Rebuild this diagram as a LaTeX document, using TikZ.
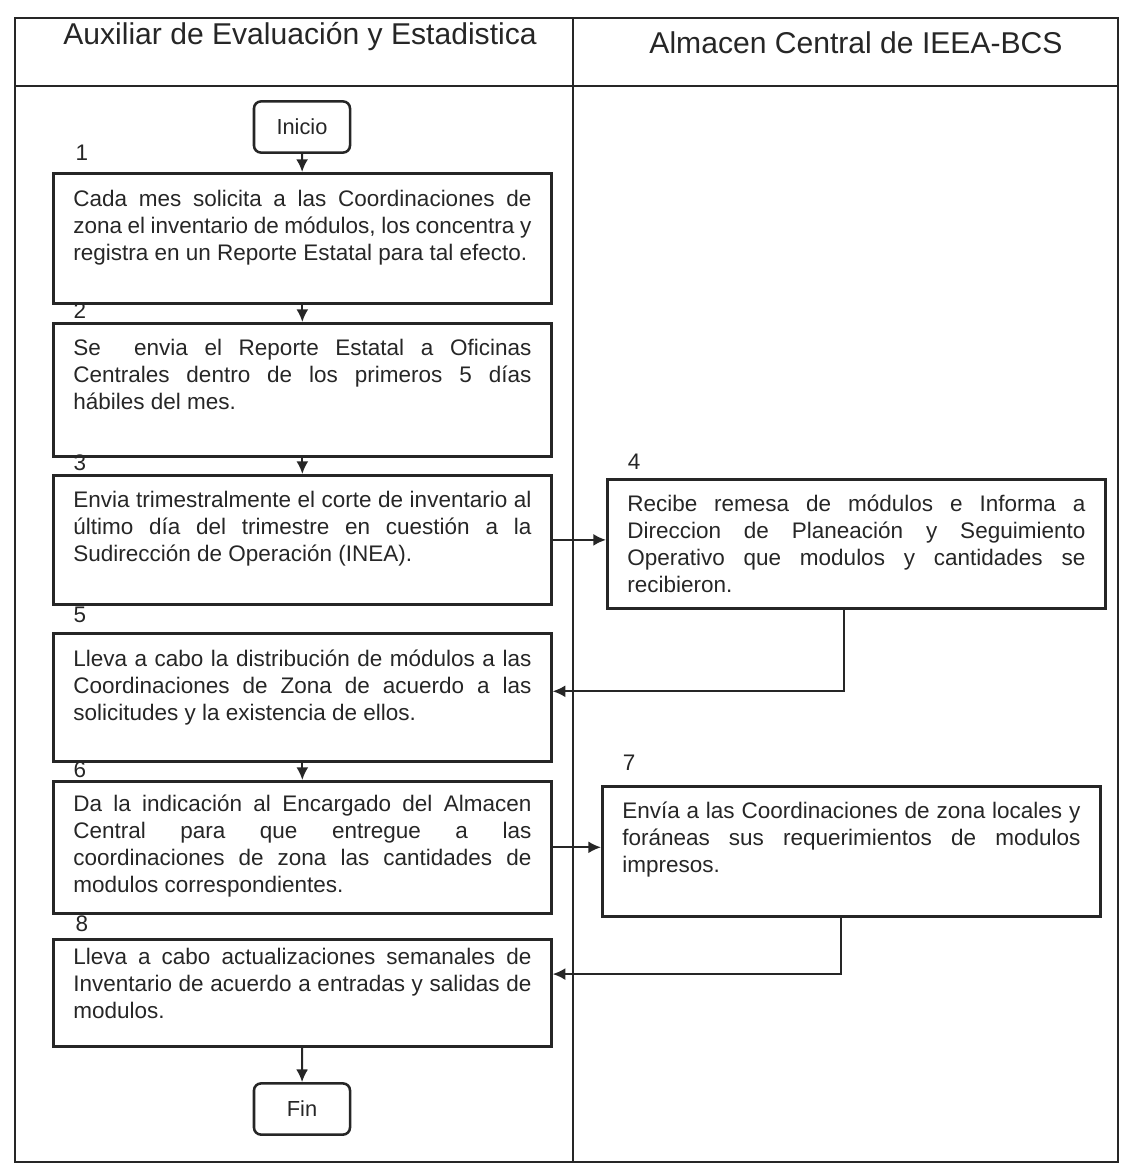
\documentclass[tikz,border=0pt]{standalone}
\usepackage{fontspec}
\setmainfont{Liberation Sans}
\usetikzlibrary{arrows.meta}
\definecolor{ink}{HTML}{262626}
\newcommand{\steptext}[3]{\parbox[t][#1][t]{11.45cm}{\fontsize{16}{19.2}\selectfont\vspace*{#2}#3}}
\begin{document}
\begin{tikzpicture}[x=0.025cm, y=-0.025cm, ink,
    stepbox/.style = {draw, line width=1.8pt, anchor=north west, inner xsep=0.5cm, inner ysep=0pt},
    endbox/.style = {draw, line width=1.8pt, rounded corners=5pt, minimum width=2.4cm, minimum height=1.28cm, font=\fontsize{15.5}{17}\selectfont},
    numlabel/.style = {font=\fontsize{16}{19}\selectfont},
    lane/.style = {font=\fontsize{21.4}{24}\selectfont},
    flow/.style = {-{Latex[length=9pt,width=8.5pt]}, line width=1.4pt}]
  \useasboundingbox (0,0) rectangle (1120,1170);
  % swimlane frame
  \draw[line width=1pt] (15,18) rectangle (1118,1162);
  \draw[line width=1pt] (15,86) -- (1118,86);
  \draw[line width=1pt] (573,18) -- (573,1162);
  \node[lane] (laneA) at (300,37) {Auxiliar de Evaluación y Estadistica};
  \node[lane] (laneB) at (856,43) {Almacen Central de IEEA-BCS};
  % start and end
  \node[endbox] (inicio) at (302,127) {Inicio};
  \node[endbox] (fin) at (302,1109) {Fin};
  % steps
  \node[numlabel] (n1) at (82,153) {1};
  \node[stepbox] (b1) at (52,172) {\steptext{3.25cm}{12pt}{Cada mes solicita a las Coordinaciones de\linebreak zona el inventario de módulos, los concentra y\linebreak registra en un Reporte Estatal para tal efecto.}};
  \node[numlabel] (n2) at (80,311) {2};
  \node[stepbox] (b2) at (52,322) {\steptext{3.33cm}{11pt}{Se\ \ envia el Reporte Estatal a Oficinas\linebreak Centrales dentro de los primeros 5 días\linebreak hábiles del mes.}};
  \node[numlabel] (n3) at (80,463) {3};
  \node[stepbox] (b3) at (52,474) {\steptext{3.23cm}{11pt}{Envia trimestralmente el corte de inventario al\linebreak último día del trimestre en cuestión a la\linebreak Sudirección de Operación (INEA).}};
  \node[numlabel] (n4) at (634,462) {4};
  \node[stepbox] (b4) at (606,478) {\steptext{3.23cm}{11pt}{Recibe remesa de módulos e Informa a\linebreak Direccion de Planeación y Seguimiento\linebreak Operativo que modulos y cantidades se\linebreak recibieron.}};
  \node[numlabel] (n5) at (80,615) {5};
  \node[stepbox] (b5) at (52,632) {\steptext{3.2cm}{12pt}{Lleva a cabo la distribución de módulos a las\linebreak Coordinaciones de Zona de acuerdo a las\linebreak solicitudes y la existencia de ellos.}};
  \node[numlabel] (n6) at (80,770) {6};
  \node[stepbox] (b6) at (52,780) {\steptext{3.3cm}{10pt}{Da la indicación al Encargado del Almacen\linebreak Central para que entregue a las\linebreak coordinaciones de zona las cantidades de\linebreak modulos correspondientes.}};
  \node[numlabel] (n7) at (629,763) {7};
  \node[stepbox] (b7) at (601,785) {\steptext{3.25cm}{11pt}{Envía a las Coordinaciones de zona locales y\linebreak foráneas sus requerimientos de modulos\linebreak impresos.}};
  \node[numlabel] (n8) at (82,924) {8};
  \node[stepbox] (b8) at (52,938) {\steptext{2.68cm}{6pt}{Lleva a cabo actualizaciones semanales de\linebreak Inventario de acuerdo a entradas y salidas de\linebreak modulos.}};
  % connectors
  \draw[flow] (inicio) -- (b1);
  \draw[flow] (b1) -- (b2);
  \draw[flow] (b2) -- (b3);
  \draw[flow] (b3.east) -- (b3.east -| b4.west);
  \draw[flow] ([xshift=-0.3cm]b4.south) |- ([yshift=0.15cm]b5.east);
  \draw[flow] (b5) -- (b6);
  \draw[flow] (b6.east) -- (b6.east -| b7.west);
  \draw[flow] ([xshift=-0.25cm]b7.south) |- ([yshift=0.47cm]b8.east);
  \draw[flow] (b8) -- (fin);
\end{tikzpicture}
\end{document}
